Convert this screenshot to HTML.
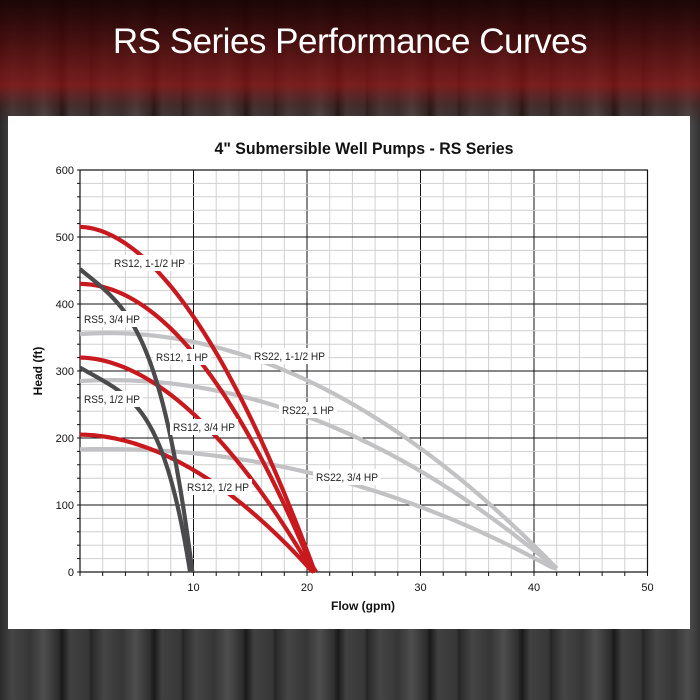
<!DOCTYPE html>
<html><head><meta charset="utf-8"><style>
html,body{margin:0;padding:0;width:700px;height:700px;overflow:hidden;background:#3b3b3b}
#bg{position:absolute;left:0;top:0;width:700px;height:700px;
background:
linear-gradient(180deg,rgba(25,3,3,0.95) 0px,rgba(70,8,8,0.85) 40px,rgba(140,20,20,0.75) 85px,rgba(80,20,20,0.4) 105px,rgba(0,0,0,0) 125px),
repeating-linear-gradient(90deg,#2a2a2a 0px,#454545 12px,#363636 30px,#4e4e4e 44px,#2e2e2e 58px,#1a1a1a 62px,#404040 70px,#383838 88px,#222 92px);}
#hdr{position:absolute;left:0;top:22px;width:700px;text-align:center;color:#fff;font-family:"Liberation Sans",sans-serif;font-size:35px;letter-spacing:-0.5px}
#panel{position:absolute;left:8px;top:116px;width:682px;height:513px;background:#fff}
svg{position:absolute;left:0;top:0}
</style></head><body>
<div id="bg"></div>
<div id="hdr">RS Series Performance Curves</div>
<div id="panel"></div>
<svg id="s" width="700" height="700" font-family="Liberation Sans, sans-serif">
<text x="364" y="154" text-anchor="middle" font-size="17" font-weight="bold" textLength="299" lengthAdjust="spacingAndGlyphs" fill="#111">4" Submersible Well Pumps - RS Series</text>
<g id="grid"></g><g id="curves"></g><g id="labels"></g>
<text x="363" y="610" text-anchor="middle" font-size="12" font-weight="bold" fill="#111">Flow (gpm)</text>
<text transform="translate(42,371) rotate(-90)" text-anchor="middle" font-size="12" font-weight="bold" fill="#111">Head (ft)</text>
</svg>
<script>
var X0=80,X1=647.5,Y0=572,Y1=170;
function px(q){return X0+(X1-X0)*q/50}function py(h){return Y0-(Y0-Y1)*h/600}
var g='';
for(var i=0;i<=25;i++){var x=px(i*2);var maj=(i%5==0);g+='<line x1="'+x+'" y1="'+Y1+'" x2="'+x+'" y2="'+Y0+'" stroke="'+(maj?'#111':'#d0d0d0')+'"/>';
g+='<line x1="'+x+'" y1="'+Y0+'" x2="'+x+'" y2="'+(Y0+4)+'" stroke="#111"/>';}
for(var j=0;j<=30;j++){var y=py(j*20);var maj=(j%5==0);g+='<line x1="'+X0+'" y1="'+y+'" x2="'+X1+'" y2="'+y+'" stroke="'+(maj?'#111':'#d0d0d0')+'"/>';
g+='<line x1="'+(X0-3)+'" y1="'+y+'" x2="'+X0+'" y2="'+y+'" stroke="#111"/>';}
g+='<rect x="'+X0+'" y="'+Y1+'" width="'+(X1-X0)+'" height="'+(Y0-Y1)+'" fill="none" stroke="#111" stroke-width="1.2"/>';
for(var k=0;k<=6;k++)g+='<text x="'+(X0-6)+'" y="'+(py(k*100)+4)+'" text-anchor="end" font-size="11" fill="#111">'+(k*100)+'</text>';
for(var k=1;k<=5;k++)g+='<text x="'+px(k*10)+'" y="'+(Y0+19)+'" text-anchor="middle" font-size="11" fill="#111">'+(k*10)+'</text>';
document.getElementById('grid').innerHTML=g;
var R='#c8191f',D='#4b4b4d',L='#c2c2c4';
var C=[
[L,355,42.3,0.15,1.96,42],
[L,285,42.3,0.15,2.0,42],
[L,183,42.3,0.10,2.07,42],
[R,515,20.7,0,1.85,20.8],
[R,430,20.6,0,1.97,20.7],
[R,320,20.5,0,1.86,20.6],
[R,205,20.5,0,1.89,20.6],
[D,452,9.9,-0.3,3.74,9.9],
[D,305,9.7,-0.3,4.4,9.7]
];
var c='';C.forEach(function(a){var d='';var N=80;for(var i=0;i<=N;i++){var q=a[5]*i/N;var x=Math.min(q/a[2],1);var h=a[1]*(1+a[3]*x-(1+a[3])*Math.pow(x,a[4]));if(h<0)h=0;if(a[3]>0&&h<5)h=5;d+=(i?'L':'M')+px(q).toFixed(2)+','+py(h).toFixed(2);}
c+='<path d="'+d+'" fill="none" stroke="'+a[0]+'" stroke-width="4.2"/>'});
document.getElementById('curves').innerHTML=c;
var LB=[["RS12, 1-1/2 HP",114,263,71],["RS5, 3/4 HP",84,319,56],["RS12, 1 HP",156,357,52],["RS22, 1-1/2 HP",254,356,71],["RS5, 1/2 HP",84,399,56],["RS12, 3/4 HP",173,427,62],["RS22, 1 HP",282,410,52],["RS12, 1/2 HP",187,487,62],["RS22, 3/4 HP",316,477,62]];
var l='';LB.forEach(function(a){l+='<rect x="'+(a[1]-3)+'" y="'+(a[2]-8)+'" width="'+(a[3]+6)+'" height="16" fill="#fff"/><text x="'+a[1]+'" y="'+(a[2]+4)+'" font-size="11" textLength="'+a[3]+'" lengthAdjust="spacingAndGlyphs" fill="#222">'+a[0]+'</text>'});
document.getElementById('labels').innerHTML=l;
</script>
</body></html>
